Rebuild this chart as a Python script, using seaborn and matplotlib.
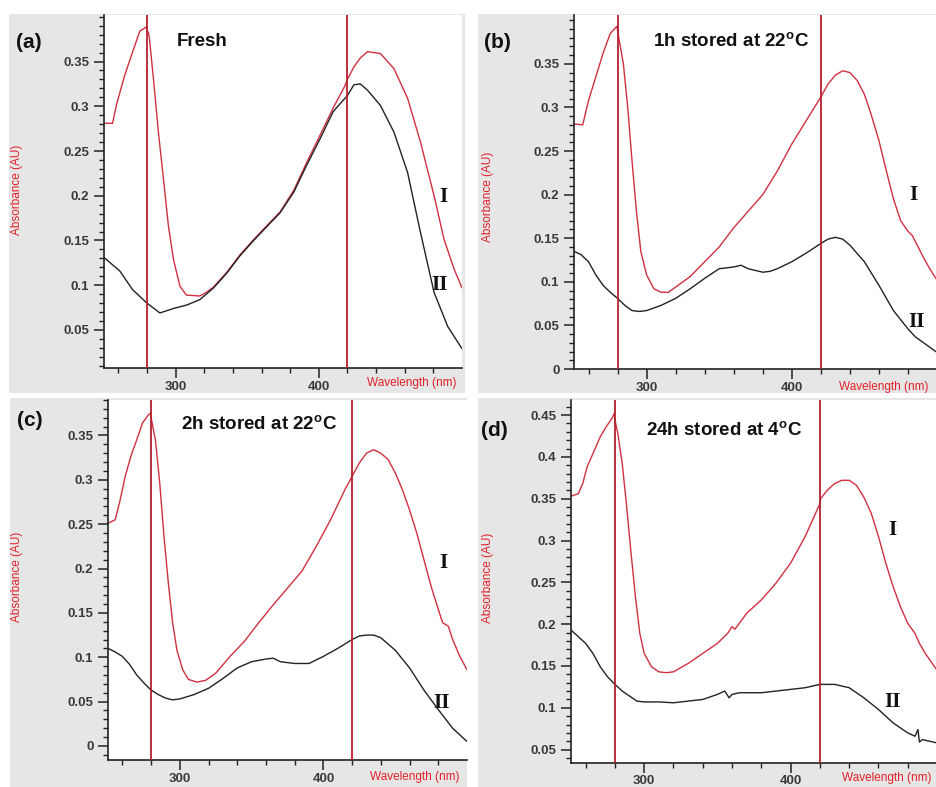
import matplotlib
matplotlib.use("Agg")
import matplotlib.pyplot as plt
from matplotlib.patches import Rectangle
from matplotlib.ticker import FixedLocator, FuncFormatter
import numpy as np
import pandas as pd
import seaborn as sns

# ---------------- spectra (wavelength in nm, absorbance in AU) ----------------
# (a) Fresh
wl_a_I = [250, 256, 258.6, 264.5, 269.2, 275, 279, 279.6, 280.5, 281.5, 284.5, 288, 291.5, 295,
          298.5, 303, 307.5, 317, 321.5, 326.5, 336, 345, 354.5, 364, 373, 382.5, 391.5, 401,
          410, 418, 420, 424.5, 429, 434, 443, 452.5, 462, 471, 480.5, 487.5, 494.5, 500]
abs_a_I = [0.281, 0.281, 0.301, 0.335, 0.357, 0.384, 0.388, 0.389, 0.384, 0.379, 0.331, 0.271, 0.219, 0.166,
           0.129, 0.099, 0.089, 0.088, 0.092, 0.098, 0.115, 0.134, 0.151, 0.167, 0.182, 0.206, 0.237, 0.268,
           0.298, 0.322, 0.330, 0.344, 0.354, 0.361, 0.359, 0.342, 0.309, 0.260, 0.200, 0.151, 0.118, 0.097]
wl_a_II = [250, 261, 270, 280, 289, 298.5, 308, 317, 326.5, 336, 345, 354.5, 364, 373, 382.5, 391.5,
           401, 410, 420, 424.5, 429, 434, 443, 452.5, 462, 471, 480.5, 490, 500]
abs_a_II = [0.131, 0.116, 0.095, 0.080, 0.069, 0.074, 0.078, 0.084, 0.097, 0.114, 0.133, 0.150, 0.166,
            0.181, 0.204, 0.234, 0.264, 0.294, 0.312, 0.324, 0.325, 0.318, 0.301, 0.271, 0.226, 0.159,
            0.092, 0.054, 0.029]

# (b) 1 h stored at 22 °C
wl_b_I = [250, 256, 260, 265, 270, 275, 279, 279.6, 280.5, 284, 287, 290, 293, 296, 300, 305, 310, 315,
          320, 330, 340, 350, 360, 370, 380, 390, 400, 410, 420, 425, 430, 435, 440, 445, 450, 455,
          460, 465, 470, 475, 480, 483, 487, 490, 495, 500]
abs_b_I = [0.281, 0.280, 0.308, 0.335, 0.362, 0.385, 0.392, 0.393, 0.383, 0.350, 0.300, 0.238, 0.181,
           0.135, 0.108, 0.092, 0.088, 0.088, 0.094, 0.106, 0.123, 0.140, 0.162, 0.181, 0.200, 0.227,
           0.258, 0.285, 0.312, 0.327, 0.337, 0.342, 0.340, 0.331, 0.315, 0.290, 0.262, 0.228, 0.195,
           0.170, 0.158, 0.153, 0.140, 0.130, 0.115, 0.102]
wl_b_II = [250, 255, 260, 265, 270, 275, 280, 285, 290, 295, 300, 310, 320, 330, 340, 350, 360, 365,
           370, 380, 385, 390, 400, 410, 420, 425, 430, 435, 440, 450, 460, 470, 480, 485, 490, 500]
abs_b_II = [0.135, 0.131, 0.123, 0.108, 0.096, 0.088, 0.081, 0.073, 0.067, 0.066, 0.067, 0.073, 0.081,
            0.092, 0.104, 0.115, 0.117, 0.119, 0.115, 0.111, 0.112, 0.115, 0.123, 0.133, 0.144, 0.149,
            0.151, 0.149, 0.142, 0.123, 0.096, 0.067, 0.046, 0.037, 0.031, 0.019]

# (c) 2 h stored at 22 °C
wl_c_I = [250, 255, 258, 262, 266, 270, 274, 278, 279.6, 280.5, 283, 286, 289, 292, 295, 298, 302,
          306, 312, 318, 325, 335, 345, 355, 365, 375, 385, 395, 405, 415, 420, 425, 430, 435, 440,
          445, 450, 455, 460, 465, 470, 475, 480, 483, 487, 490, 495, 500]
abs_c_I = [0.251, 0.255, 0.274, 0.304, 0.327, 0.345, 0.364, 0.373, 0.375, 0.366, 0.345, 0.297, 0.236,
           0.184, 0.139, 0.108, 0.086, 0.075, 0.072, 0.074, 0.082, 0.101, 0.118, 0.139, 0.159, 0.178,
           0.197, 0.225, 0.255, 0.289, 0.304, 0.319, 0.330, 0.334, 0.330, 0.323, 0.308, 0.289, 0.266,
           0.240, 0.210, 0.180, 0.154, 0.139, 0.135, 0.120, 0.101, 0.086]
wl_c_II = [250, 255, 260, 265, 270, 275, 280, 285, 290, 295, 300, 310, 320, 330, 340, 350, 360, 365,
           370, 380, 390, 400, 410, 420, 425, 430, 435, 440, 450, 460, 470, 480, 490, 500]
abs_c_II = [0.110, 0.106, 0.101, 0.092, 0.080, 0.071, 0.063, 0.058, 0.054, 0.052, 0.053, 0.058, 0.065,
            0.076, 0.088, 0.095, 0.098, 0.099, 0.095, 0.093, 0.093, 0.101, 0.110, 0.120, 0.124, 0.125,
            0.125, 0.122, 0.108, 0.088, 0.063, 0.041, 0.020, 0.005]

# (d) 24 h stored at 4 °C
wl_d_I = [250, 255, 258, 261, 265, 270, 274, 278, 279.6, 280.5, 282, 285, 288, 291, 294, 297, 300,
          305, 310, 315, 320, 330, 340, 350, 357, 360, 362, 370, 380, 390, 400, 410, 420, 420.5, 425,
          430, 435, 440, 445, 450, 455, 460, 465, 470, 475, 480, 485, 488, 492, 496, 500]
abs_d_I = [0.353, 0.356, 0.368, 0.388, 0.404, 0.424, 0.436, 0.446, 0.452, 0.440, 0.428, 0.392, 0.341,
           0.285, 0.233, 0.189, 0.165, 0.149, 0.143, 0.142, 0.143, 0.153, 0.165, 0.177, 0.189, 0.197,
           0.194, 0.213, 0.229, 0.249, 0.273, 0.305, 0.344, 0.350, 0.360, 0.368, 0.372, 0.372, 0.366,
           0.352, 0.333, 0.305, 0.273, 0.245, 0.221, 0.201, 0.189, 0.177, 0.165, 0.155, 0.145]
wl_d_II = [250, 255, 260, 265, 270, 275, 280, 285, 290, 295, 300, 310, 320, 330, 340, 350, 355, 358,
           360, 365, 380, 400, 410, 420, 430, 440, 450, 460, 470, 480, 485, 487, 488, 490, 500]
abs_d_II = [0.193, 0.185, 0.177, 0.165, 0.149, 0.137, 0.128, 0.120, 0.114, 0.108, 0.107, 0.107, 0.106,
            0.108, 0.110, 0.116, 0.120, 0.112, 0.116, 0.118, 0.118, 0.122, 0.124, 0.128, 0.128, 0.124,
            0.112, 0.098, 0.082, 0.070, 0.066, 0.074, 0.059, 0.062, 0.058]

panel_tags = ["(a)", "(b)", "(c)", "(d)"]
panel_titles = ["Fresh",
                r"1h stored at 22$^{\mathbf{o}}$C",
                r"2h stored at 22$^{\mathbf{o}}$C",
                r"24h stored at 4$^{\mathbf{o}}$C"]
marker_wavelengths = [280, 420]
curve_names = ["I", "II"]

# ---------------- style ----------------
sns.set_style("ticks")
plt.rcParams["font.family"] = ["Liberation Sans", "DejaVu Sans"]
plt.rcParams["mathtext.fontset"] = "custom"
plt.rcParams["mathtext.rm"] = "Liberation Sans"
plt.rcParams["mathtext.bf"] = "Liberation Sans:bold"

RED = "#d0303f"
VLINE = "#b3212e"
DARK = "#222222"
PANEL_BG = "#e6e6e6"
LABEL_RED = "#e3202a"

W, H = 937, 787
fig = plt.figure(figsize=(W / 100, H / 100), dpi=100)


def fx(x):
    return x / W


def fy(y):
    return 1 - y / H


# layout of each panel in pixels: grey card, plot box, text anchors
layout = [
    dict(card=(9, 14, 465, 393), box=(104, 15, 462, 368), ylim=(0.0075, 0.402),
         ymaj=[0.05, 0.10, 0.15, 0.20, 0.25, 0.30, 0.35],
         tag=(29, 42), title=(202, 42), ylab=(17, 190), xlab=(412, 383),
         rI=(443, 197), rII=(440, 285)),
    dict(card=(478, 14, 937, 393), box=(574, 15, 937, 369), ylim=(0.0, 0.406),
         ymaj=[0.0, 0.05, 0.10, 0.15, 0.20, 0.25, 0.30, 0.35],
         tag=(497, 42), title=(731, 42), ylab=(488, 197), xlab=(884, 387),
         rI=(913, 195), rII=(917, 322)),
    dict(card=(10, 398, 467, 787), box=(108, 400, 467, 760), ylim=(-0.0158, 0.39),
         ymaj=[0.0, 0.05, 0.10, 0.15, 0.20, 0.25, 0.30, 0.35],
         tag=(30, 420), title=(259, 425), ylab=(17, 577), xlab=(415, 777),
         rI=(443, 563), rII=(442, 703)),
    dict(card=(478, 398, 937, 787), box=(571, 400, 937, 763), ylim=(0.034, 0.468),
         ymaj=[0.05, 0.10, 0.15, 0.20, 0.25, 0.30, 0.35, 0.40, 0.45],
         tag=(494, 431), title=(724, 431), ylab=(488, 578), xlab=(887, 778),
         rI=(892, 530), rII=(893, 702)),
]

spectra = [
    (wl_a_I, abs_a_I, wl_a_II, abs_a_II),
    (wl_b_I, abs_b_I, wl_b_II, abs_b_II),
    (wl_c_I, abs_c_I, wl_c_II, abs_c_II),
    (wl_d_I, abs_d_I, wl_d_II, abs_d_II),
]

for lay, (wI, aI, wII, aII), tag, title in zip(layout, spectra, panel_tags, panel_titles):
    # grey card behind each panel (drawn beneath the axes)
    cx0, cy0, cx1, cy1 = lay["card"]
    fig.patches.append(Rectangle((fx(cx0), fy(cy1)), fx(cx1 - cx0), (cy1 - cy0) / H,
                                 transform=fig.transFigure, facecolor=PANEL_BG,
                                 edgecolor="none", zorder=-5))

    bx0, by0, bx1, by1 = lay["box"]
    ax = fig.add_axes([fx(bx0), fy(by1), fx(bx1 - bx0), (by1 - by0) / H])
    ax.set_zorder(1)
    ax.set_facecolor("white")

    df = pd.concat([
        pd.DataFrame({"wavelength": wI, "absorbance": aI, "sample": curve_names[0]}),
        pd.DataFrame({"wavelength": wII, "absorbance": aII, "sample": curve_names[1]}),
    ])
    sns.lineplot(data=df, x="wavelength", y="absorbance", hue="sample",
                 palette={"I": RED, "II": DARK}, estimator=None, sort=False,
                 linewidth=1.0, legend=False, ax=ax)

    for wl in marker_wavelengths:
        ax.axvline(wl, color=VLINE, lw=1.3, zorder=3)

    ax.set_xlim(250, 500)
    ax.set_ylim(*lay["ylim"])
    ax.set_xlabel("")
    ax.set_ylabel("")

    ax.xaxis.set_major_locator(FixedLocator([300, 400]))
    ax.xaxis.set_minor_locator(FixedLocator([260, 280, 320, 340, 360, 380, 420, 440, 460, 480]))
    ax.yaxis.set_major_locator(FixedLocator(lay["ymaj"]))
    ymin, ymax = lay["ylim"]
    minors = [v / 100 for v in range(int(np.ceil(ymin * 100)), int(np.floor(ymax * 100)) + 1)]
    ax.yaxis.set_minor_locator(FixedLocator(minors))
    ax.yaxis.set_major_formatter(FuncFormatter(lambda v, _: f"{round(v, 2):g}"))

    ax.tick_params(which="major", direction="out", length=7, width=1.1, color=DARK,
                   labelcolor="#3a3a3a", labelsize=9.5)
    ax.tick_params(which="minor", direction="out", length=3.5, width=1.0, color=DARK)
    ax.tick_params(axis="x", pad=2)
    for lab in ax.get_xticklabels() + ax.get_yticklabels():
        lab.set_fontweight("bold")

    sns.despine(ax=ax)
    for side in ("left", "bottom"):
        ax.spines[side].set_color(DARK)
        ax.spines[side].set_linewidth(1.2)

    fig.text(fx(lay["tag"][0]), fy(lay["tag"][1]), tag, fontsize=15, fontweight="bold",
             ha="center", va="center", color="#111111", zorder=5)
    fig.text(fx(lay["title"][0]), fy(lay["title"][1]), title, fontsize=13.5, fontweight="bold",
             ha="center", va="center", color="#111111", zorder=5)
    fig.text(fx(lay["ylab"][0]), fy(lay["ylab"][1]), "Absorbance (AU)", fontsize=8.5,
             rotation=90, ha="center", va="center", color=LABEL_RED, zorder=5)
    fig.text(fx(lay["xlab"][0]), fy(lay["xlab"][1]), "Wavelength (nm)", fontsize=8.5,
             ha="center", va="center", color=LABEL_RED, zorder=5)
    for pos, name in ((lay["rI"], curve_names[0]), (lay["rII"], curve_names[1])):
        fig.text(fx(pos[0]), fy(pos[1]), name, fontsize=15, fontweight="bold",
                 family=["Liberation Serif", "DejaVu Serif"], ha="center", va="center",
                 color="#111111", zorder=5)

fig.savefig("out.png", dpi=100)
